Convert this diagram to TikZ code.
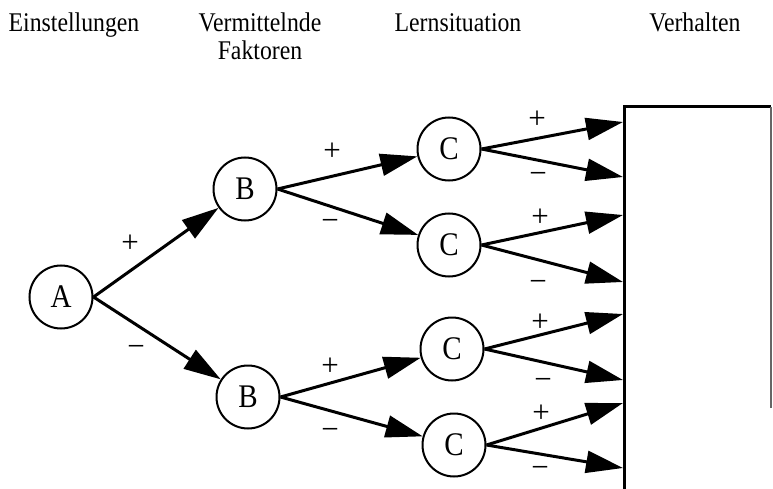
\documentclass[tikz,border=0pt]{standalone}
\usepackage{fontspec}
\setmainfont{Liberation Serif}
\newfontfamily\tallfont[FakeStretch=0.88]{Liberation Serif}
\usetikzlibrary{arrows.meta}
\begin{document}
\begin{tikzpicture}[x=1pt,y=-1pt,
  state/.style={circle,draw,line width=2pt,minimum size=63pt,inner sep=0pt,font=\tallfont\fontsize{33}{34}\selectfont},
  head/.style={anchor=base,font=\tallfont\fontsize{27}{28}\selectfont,inner sep=0pt},
  sign/.style={anchor=base,font=\fontsize{31}{31}\selectfont,inner sep=0pt,yshift=-8pt},
  msign/.style={sign,yshift=-6pt},
  arr/.style={line width=3pt,-{Triangle[length=37pt,width=22pt]}}]
\useasboundingbox (0,0) rectangle (773,489);
% headers
\node[head] (h1) at (74,32) {Einstellungen};
\node[head] (h2) at (260,32) {Vermittelnde};
\node[head] (h2b) at (260,60) {Faktoren};
\node[head] (h3) at (458,32) {Lernsituation};
\node[head] (h4) at (695,32) {Verhalten};
% nodes
\node[state] (A) at (61,297) {A};
\node[state] (B1) at (245,189) {B};
\node[state] (B2) at (248,397) {B};
\node[state] (C1) at (449,149) {C};
\node[state] (C2) at (449,245) {C};
\node[state] (C3) at (452,349) {C};
\node[state] (C4) at (454,445) {C};
% box
\draw[line width=3pt] (624,489) -- (624,107) -- (771,107);
\draw[line width=1.5pt,black!60] (771,107) -- (771,408);
\coordinate (R1) at (623,122);
\coordinate (R2) at (623,177);
\coordinate (R3) at (623,215);
\coordinate (R4) at (623,282);
\coordinate (R5) at (623,314);
\coordinate (R6) at (623,380);
\coordinate (R7) at (623,403);
\coordinate (R8) at (623,468);
% arrows
\draw[arr] (A.east) -- (B1);
\draw[arr] (A.east) -- (B2);
\draw[arr] (B1.east) -- (C1);
\draw[arr] (B1.east) -- (C2);
\draw[arr] (B2.east) -- (C3);
\draw[arr] (B2.east) -- (C4);
\draw[arr] (C1.east) -- (R1);
\draw[arr] (C1.east) -- (R2);
\draw[arr] (C2.east) -- (R3);
\draw[arr] (C2.east) -- (R4);
\draw[arr] (C3.east) -- (R5);
\draw[arr] (C3.east) -- (R6);
\draw[arr] (C4.east) -- (R7);
\draw[arr] (C4.east) -- (R8);
% signs (positions are glyph centres)
\node[sign] (s1) at (130,244) {+};
\node[msign] (s2) at (136,342) {−};
\node[sign] (s3) at (332,153) {+};
\node[msign] (s4) at (330,216) {−};
\node[sign] (s5) at (330,367) {+};
\node[msign] (s6) at (330,425) {−};
\node[sign] (s7) at (537,121) {+};
\node[msign] (s8) at (538,169) {−};
\node[sign] (s9) at (540,218) {+};
\node[msign] (s10) at (538,277) {−};
\node[sign] (s11) at (540,323) {+};
\node[msign] (s12) at (543,375) {−};
\node[sign] (s13) at (541,414) {+};
\node[msign] (s14) at (540,463) {−};
\end{tikzpicture}
\end{document}
